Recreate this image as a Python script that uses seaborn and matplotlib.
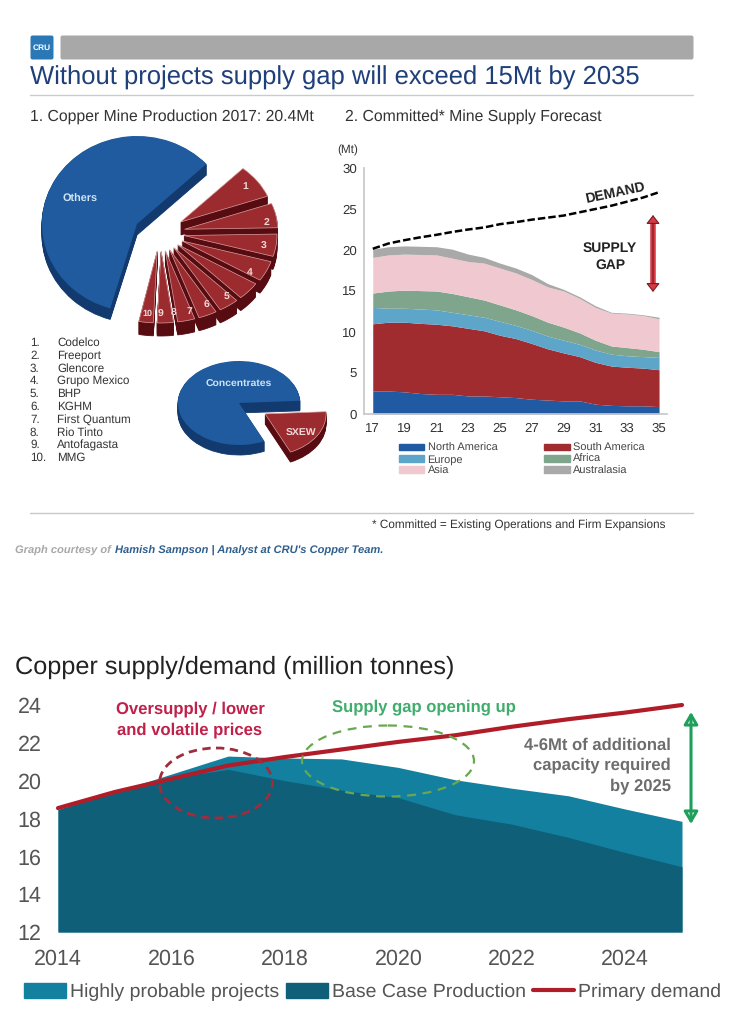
import numpy as np
import matplotlib
matplotlib.use("Agg")
import matplotlib.pyplot as plt
from matplotlib.patches import Ellipse, FancyBboxPatch, Patch
from matplotlib.lines import Line2D
import seaborn as sns

W, H = 735, 1024

# pie data
producers = ["Codelco", "Freeport", "Glencore", "Grupo Mexico", "BHP", "KGHM",
             "First Quantum", "Rio Tinto", "Antofagasta", "MMG"]
producer_share = [7.5, 5.5, 5.0, 4.5, 4.0, 3.5, 3.2, 3.0, 2.8, 2.5]
others_share = 58.5
producer_explode = [0.27, 0.27, 0.26, 0.26, 0.25, 0.25, 0.25, 0.25, 0.25, 0.25]
route_labels = ["Concentrates", "SXEW"]
route_share = [81, 19]

# mine supply forecast
supply_years = list(range(2017, 2036))
north_america = [2.8, 2.8, 2.7, 2.5, 2.4, 2.4, 2.2, 2.2, 2.1, 2.0, 1.8, 1.7, 1.6, 1.6, 1.2, 1.05, 1.0, 1.0, 0.9]
south_america = [8.2, 8.4, 8.5, 8.55, 8.55, 8.35, 8.25, 7.95, 7.5, 7.2, 6.8, 6.25, 5.85, 5.4, 5.1, 4.8, 4.7, 4.6, 4.5]
europe = [2.0, 1.7, 1.7, 1.75, 1.75, 1.65, 1.65, 1.65, 1.7, 1.6, 1.6, 1.55, 1.55, 1.5, 1.5, 1.45, 1.4, 1.4, 1.5]
africa = [1.75, 2.1, 2.2, 2.25, 2.3, 2.3, 2.2, 2.1, 2.0, 1.9, 1.8, 1.7, 1.6, 1.4, 1.2, 1.0, 1.0, 0.9, 0.7]
asia = [4.35, 4.4, 4.4, 4.4, 4.4, 4.3, 4.3, 4.5, 4.5, 4.5, 4.4, 4.3, 4.4, 4.2, 4.0, 4.0, 4.1, 4.1, 4.0]
australasia = [1.0, 1.0, 1.0, 1.0, 1.0, 1.1, 0.9, 0.7, 0.6, 0.6, 0.6, 0.4, 0.2, 0.2, 0.2, 0.1, 0.1, 0.1, 0.2]
mine_demand = [20.15, 20.8, 21.2, 21.55, 21.85, 22.2, 22.5, 22.75, 23.15, 23.4, 23.7, 23.95, 24.2, 24.6, 25.0, 25.4, 25.9, 26.4, 27.05]
region_names = ["North America", "South America", "Europe", "Africa", "Asia", "Australasia"]
region_colors = ["#1f5aa3", "#a02c30", "#5da5c9", "#7fa68d", "#efc9cf", "#a9a9a9"]

# copper supply/demand
cu_years = list(range(2014, 2026))
base_case = [18.47, 19.4, 20.15, 20.6, 20.0, 19.5, 19.1, 18.2, 17.7, 17.0, 16.2, 15.45]
highly_probable = [18.47, 19.4, 20.35, 21.3, 21.2, 21.15, 20.7, 20.05, 19.6, 19.2, 18.5, 17.85]
primary_demand = [18.55, 19.4, 20.1, 20.8, 21.25, 21.65, 22.05, 22.4, 22.85, 23.25, 23.6, 24.0]

sns.set_theme(style="white")
plt.rcParams["font.family"] = ["Liberation Sans", "DejaVu Sans"]
plt.rcParams["text.hinting"] = "none"

fig = plt.figure(figsize=(W / 100, H / 100), dpi=100, facecolor="white")


def px_axes(left, top, right, bottom):
    return fig.add_axes([left / W, 1 - bottom / H, (right - left) / W, (bottom - top) / H])


def draw_pie(cx, cy, rx, ry, values, explode, start, top, side, depth, hide=(), edge="none"):
    ax = px_axes(cx - rx, cy - ry, cx + rx, cy + ry)
    n = len(values)
    for k in range(depth, 0, -1):
        wedges, _ = ax.pie(values, explode=explode, startangle=start, colors=[side] * n,
                           radius=1, center=(0, -k / ry), wedgeprops={"linewidth": 0.6, "edgecolor": side})
        for i in hide:
            wedges[i].set_visible(False)
    wedges, _ = ax.pie(values, explode=explode, startangle=start, colors=[top] * n, radius=1,
                       wedgeprops={"linewidth": 0.5, "edgecolor": edge})
    for i in hide:
        wedges[i].set_visible(False)
    ax.set_aspect("auto")
    ax.set_xlim(-1, 1)
    ax.set_ylim(-1, 1)
    ax.patch.set_alpha(0)
    return ax


blue, blue_side = "#1f5b9e", "#123a6e"
red, red_side = "#9c2b2f", "#560c11"
pie_values = [others_share] + producer_share[::-1]
pie_explode = [0] + producer_explode[::-1]
draw_pie(137, 224, 95, 88, pie_values, [0] * 11, 43, blue, blue_side, 11, hide=range(1, 11))
draw_pie(160, 233, 93, 72, pie_values, pie_explode, 48, red, red_side, 13, hide=[0], edge="#d9a0a0")

draw_pie(239, 403, 61, 42, route_share, [0, 0], 3, blue, blue_side, 10, hide=[1])
draw_pie(239, 403, 61, 42, route_share, [0, 0.5], 3, red, red_side, 10, hide=[0], edge="#d9a0a0")

# forecast chart
ax1 = px_axes(364, 168, 667, 414)
ax1.stackplot(range(19), north_america, south_america, europe, africa, asia, australasia,
              colors=region_colors, linewidth=0)
sns.lineplot(x=range(19), y=mine_demand, ax=ax1, color="black", linewidth=1.8, linestyle=(0, (3, 1.2)))
ax1.set_xlim(-0.55, 18.5)
ax1.set_ylim(0, 30)
ax1.set_yticks([0, 5, 10, 15, 20, 25, 30])
ax1.set_xticks(range(0, 19, 2))
ax1.set_xticklabels([str(y)[2:] for y in supply_years[::2]])
ax1.set_xticks(np.arange(-0.5, 19, 1), minor=True)
sns.despine(ax=ax1)
for s in ["left", "bottom"]:
    ax1.spines[s].set_color("#c8c8c8")
ax1.tick_params(axis="y", length=3, color="#c8c8c8", labelsize=9.5, labelcolor="#333333", pad=2)
ax1.tick_params(axis="x", length=0, labelsize=9.5, labelcolor="#333333", pad=6)
ax1.tick_params(axis="x", which="minor", direction="in", length=2, color="#c8c8c8")
ax1.patch.set_alpha(0)
legend_order = [0, 2, 4, 1, 3, 5]
fig.legend(handles=[Patch(color=region_colors[i], label=region_names[i]) for i in legend_order],
           ncol=2, frameon=False, fontsize=7.9, labelcolor="#444444",
           handlelength=2.3, handleheight=0.55, handletextpad=0.3, columnspacing=4.3,
           labelspacing=0.1, loc="upper left", bbox_to_anchor=(399 / W, 1 - 443 / H), borderpad=0, borderaxespad=0)

# bottom chart
ax2 = px_axes(58, 705, 682, 932)
ax2.fill_between(cu_years, 12, highly_probable, color="#14809f", linewidth=0)
ax2.fill_between(cu_years, 12, base_case, color="#0f5f78", linewidth=0)
sns.lineplot(x=cu_years, y=primary_demand, ax=ax2, color="#b01c28", linewidth=3, clip_on=False)
ax2.set_xlim(2014, 2025)
ax2.set_ylim(12, 24)
ax2.set_xticks(cu_years[::2])
ax2.set_yticks([12, 14, 16, 18, 20, 22, 24])
sns.despine(ax=ax2, left=True, bottom=True)
ax2.tick_params(axis="both", length=0, labelsize=15.5, labelcolor="#555555")
ax2.tick_params(axis="x", pad=12)
ax2.tick_params(axis="y", pad=12)
ax2.patch.set_alpha(0)
fig.legend(handles=[Patch(color="#14809f", label="Highly probable projects"),
                    Patch(color="#0f5f78", label="Base Case Production"),
                    Line2D([0], [0], color="#b01c28", lw=3, label="Primary demand")],
           ncol=3, frameon=False, fontsize=14, labelcolor="#555555",
           handlelength=2.15, handleheight=0.8, handletextpad=0.2, columnspacing=0.36,
           loc="center left", bbox_to_anchor=(24 / W, 1 - 992 / H), borderpad=0, borderaxespad=0)

# everything placed by pixel goes on a full size overlay
ov = fig.add_axes([0, 0, 1, 1], zorder=10)
ov.set_xlim(0, W)
ov.set_ylim(H, 0)
ov.axis("off")

ov.add_patch(FancyBboxPatch((31, 36), 22, 23, boxstyle="round,pad=0.5,rounding_size=2", color="#2a78b5", lw=0))
ov.text(42, 47.5, "CRU", color="white", fontsize=6, fontweight="bold", ha="center", va="center")
ov.add_patch(FancyBboxPatch((61, 36), 632, 23, boxstyle="round,pad=0.5,rounding_size=2", color="#a8a8a8", lw=0))
ov.text(30, 78, "Without projects supply gap will exceed 15Mt by 2035", color="#1f3f7a", fontsize=18.45, va="center")
ov.plot([30, 693], [95, 95], color="#c8ccd0", lw=1)
ov.text(30, 117, "1. Copper Mine Production 2017: 20.4Mt", color="#333333", fontsize=11.3, va="center")
ov.text(345, 117, "2. Committed* Mine Supply Forecast", color="#333333", fontsize=11.3, va="center")
ov.text(348, 150, "(Mt)", color="#333333", fontsize=8.5, va="center", ha="center")

for i, (name, y) in enumerate(zip(producers, np.linspace(343, 458, 10))):
    ov.text(30, y, f"{i + 1}.", color="#333333", fontsize=8.35, va="center")
    ov.text(57, y, name, color="#333333", fontsize=8.35, va="center")

slice_xy = [(245, 186), (267, 222), (264, 246), (250, 272), (227, 296),
            (207, 305), (189, 311), (174, 313), (161, 314), (147, 314)]
for i, (x, y) in enumerate(slice_xy):
    ov.text(x, y, str(i + 1), color="#f0d8d8", fontsize=7.5 if i < 9 else 6.5, fontweight="bold", ha="center", va="center")
ov.text(80, 199, "Others", color="#cfe3f5", fontsize=7.8, fontweight="bold", ha="center", va="center")
ov.text(239, 384, route_labels[0], color="#cfe3f5", fontsize=7.5, fontweight="bold", ha="center", va="center")
ov.text(301, 433, route_labels[1], color="#f0d8d8", fontsize=7.5, fontweight="bold", ha="center", va="center")

ov.text(615, 193, "DEMAND", color="#222222", fontsize=10, fontweight="bold", rotation=12, ha="center", va="center")
ov.text(610, 248, "SUPPLY", color="#222222", fontsize=10, fontweight="bold", ha="center", va="center")
ov.text(610, 265, "GAP", color="#222222", fontsize=10, fontweight="bold", ha="center", va="center")
ov.plot([653, 653], [221, 286], color="#d63a45", lw=4, solid_capstyle="butt")
ov.annotate("", xy=(653, 215), xytext=(653, 292),
            arrowprops=dict(arrowstyle="<|-|>,head_width=0.35,head_length=0.45", ec="#7a1a22", fc="#d63a45", lw=0.8, shrinkA=0, shrinkB=0))

ov.plot([30, 693], [513, 513], color="#c8c8c8", lw=1)
ov.text(372, 525, "* Committed = Existing Operations and Firm Expansions", color="#333333", fontsize=8.5, va="center")
ov.text(15, 551, "Graph courtesy of ", color="#a8a8a8", fontsize=8.05, style="italic", fontweight="bold", va="center")
ov.text(115, 551, "Hamish Sampson | Analyst at CRU's Copper Team.", color="#2f5f8f", fontsize=8.05, style="italic", fontweight="bold", va="center")

ov.text(15, 667, "Copper supply/demand (million tonnes)", color="#222222", fontsize=18.2, va="center")
ov.text(190, 709, "Oversupply / lower", color="#c0204a", fontsize=12, fontweight="bold", ha="center", va="center")
ov.text(190, 730, "and volatile prices", color="#c0204a", fontsize=12, fontweight="bold", ha="center", va="center")
ov.text(424, 707, "Supply gap opening up", color="#3fae6c", fontsize=12, fontweight="bold", ha="center", va="center")
for y, line in zip([745, 765, 786], ["4-6Mt of additional", "capacity required", "by 2025"]):
    ov.text(671, y, line, color="#6d6d6d", fontsize=12, fontweight="bold", ha="right", va="center")
ov.add_patch(Ellipse((216, 783), 113, 70, fill=False, ec="#a02c3c", lw=2, ls=(0, (3, 2))))
ov.add_patch(Ellipse((388, 761), 172, 71, fill=False, ec="#6aa84f", lw=1.6, ls=(0, (4, 3))))
ov.annotate("", xy=(691, 712), xytext=(691, 824),
            arrowprops=dict(arrowstyle="<|-|>,head_width=0.35,head_length=0.6", color="#1fa05a", lw=2.2, fill=False, shrinkA=0, shrinkB=0))

fig.savefig("out.png", dpi=100)
